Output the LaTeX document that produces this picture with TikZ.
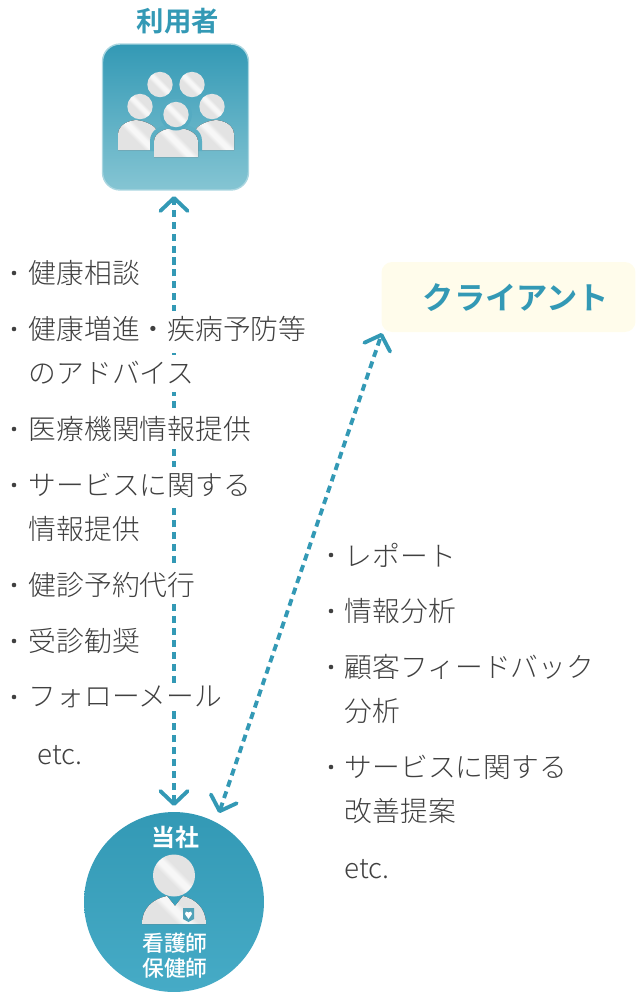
\documentclass[tikz,border=0pt]{standalone}
\usepackage{fontspec}
\newfontfamily\cjk{Noto Sans CJK JP Light}
\newfontfamily\cjkm{Noto Sans CJK JP Medium}
\newfontfamily\cjkb{Noto Sans CJK JP Bold}
\usetikzlibrary{arrows.meta,positioning,calc}
\definecolor{teal1}{HTML}{3399B5}
\definecolor{teal2}{HTML}{85C5D3}
\definecolor{teal3}{HTML}{46ABC6}
\definecolor{cream}{HTML}{FFFCEB}
\definecolor{txt}{HTML}{404040}
\pgfdeclarehorizontalshading{silverband}{100bp}{color(0bp)=(black!11); color(42bp)=(black!11); color(48bp)=(black!3); color(53bp)=(black!3); color(59bp)=(black!11); color(100bp)=(black!11)}
\begin{document}
\begin{tikzpicture}
[x=.02cm,y=-.02cm,
item/.style={anchor=west,inner sep=0pt,minimum height=.74cm,font=\cjk\fontsize{15.8}{15.8}\selectfont,text=txt},
cover/.style={item,fill=white},
dot/.style={inner sep=0pt,circle,fill=txt,minimum size=2.6pt},
title/.style={inner sep=0pt,font=\cjkb\fontsize{15.6}{15.6}\selectfont},
silver/.style={draw=none,shading=silverband,shading angle=45},
link/.style={line width=2.2pt,teal1,dash pattern=on 4pt off 2.8pt,
  {Straight Barb[length=7.4pt,width=15.5pt,line width=2.2pt,round]}-{Straight Barb[length=7.4pt,width=15.5pt,line width=2.2pt,round]}}]
\useasboundingbox (0,0) rectangle (636,992);
%
\node (usertitle) [title,text=teal1] at (178,21) {利用者};
\node (userbox) [inner sep=0pt,minimum size=2.92cm,rounded corners=10pt,top color=teal1,bottom color=teal2,draw=teal2!70,line width=.8pt] at (175.5,117) {};
%
\node (client) [inner sep=0pt,minimum width=5.08cm,minimum height=1.4cm,rounded corners=6pt,fill=cream] at (508.5,297) {};
\node (clienttitle) [title,text=teal1,font=\cjkb\fontsize{17.8}{17.8}\selectfont] at (516,297.5) {クライアント};
%
\node (us) [circle,inner sep=0pt,minimum size=3.6cm,top color=teal1,bottom color=teal3] at (174,902) {};
%
\coordinate (uptop) at (174,196);
\coordinate (updown) at (174,806);
\coordinate (clienttip) at (382,333);
\coordinate (ustip) at (219,813);
\draw[link] (updown) -- (uptop);
\draw[link] (ustip) -- (clienttip);
%
\node (h1) [item] at (28.5,273) {健康相談};
\node (h2) [cover] at (28.5,329) {健康増進・疾病予防等};
\node (h3) [cover] at (28.5,373) {のアドバイス};
\node (h4) [cover] at (28.5,429) {医療機関情報提供};
\node (h5) [cover] at (28.5,485) {サービスに関する};
\node (h6) [item] at (28.5,529) {情報提供};
\node (h7) [cover] at (28.5,585) {健診予約代行};
\node (h8) [item] at (28.5,641) {受診勧奨};
\node (h9) [cover,minimum height=.4cm] at (28.5,697) {フォローメール};
\node (h10) [item] at (37,755) {etc.};
\foreach \y in {273,329,429,485,585,641,697}
  \node[dot] at (14,\y) {};
%
\node (r1) [item] at (344.5,555) {レポート};
\node (r2) [item] at (344.5,611) {情報分析};
\node (r3) [item] at (344.5,667) {顧客フィードバック};
\node (r4) [item] at (344.5,711) {分析};
\node (r5) [item] at (344.5,767) {サービスに関する};
\node (r6) [item] at (344.5,811) {改善提案};
\node (r7) [item] at (344.5,869) {etc.};
\foreach \y in {555,611,667,767}
  \node[dot] at (331,\y) {};
%
% group of users
\fill[silver] (118,150) -- (118,135) .. controls (118,126) and (126,121) .. (136,120) .. controls (146,121) and (158,126) .. (158,135) -- (158,150) -- cycle;
\fill[silver] (194,150) -- (194,135) .. controls (194,126) and (206,121) .. (216,120) .. controls (226,121) and (234,126) .. (234,135) -- (234,150) -- cycle;
\foreach \x/\y in {160/84.5,192/84.5,140/106.5,212/106.5}
  \shade[silver] (\x,\y) circle [radius=12.7];
\fill[teal2!50!teal1] (150,151) -- (150,141) .. controls (150,130) and (160,124) .. (176,124) .. controls (192,124) and (202,130) .. (202,141) -- (202,151) -- cycle;
\fill[silver] (154,157) -- (154,142) .. controls (154,133) and (164,128) .. (176,128) .. controls (188,128) and (198,133) .. (198,142) -- (198,157) -- cycle;
\fill[teal2!42!teal1] (176,114.5) circle [radius=16];
\shade[silver] (176,114.5) circle [radius=12.7];
%
% nurse
\node (ustitle) [title,text=white,font=\cjkb\fontsize{13.6}{13.6}\selectfont] at (175,837) {当社};
\shade[silver] (174,875.5) circle [radius=21];
\fill[silver] (142,924) .. controls (142,908) and (153,899) .. (167,896) -- (175,906) -- (183,896) .. controls (195,899) and (206,908) .. (206,924) -- cycle;
\fill[teal3!80!gray] (183,908) -- (194,908) -- (194,919) -- (188.5,922) -- (183,919) -- cycle;
\fill[white] (188.5,919) -- (185,914) -- (186,911.5) -- (188.5,912.5) -- (191,911.5) -- (192,914) -- cycle;
\node (usrole) [inner sep=0pt,text=white,align=center,font=\cjkm\fontsize{12.4}{14.2}\selectfont] at (175,955.5) {看護師\\保健師};
\end{tikzpicture}
\end{document}
